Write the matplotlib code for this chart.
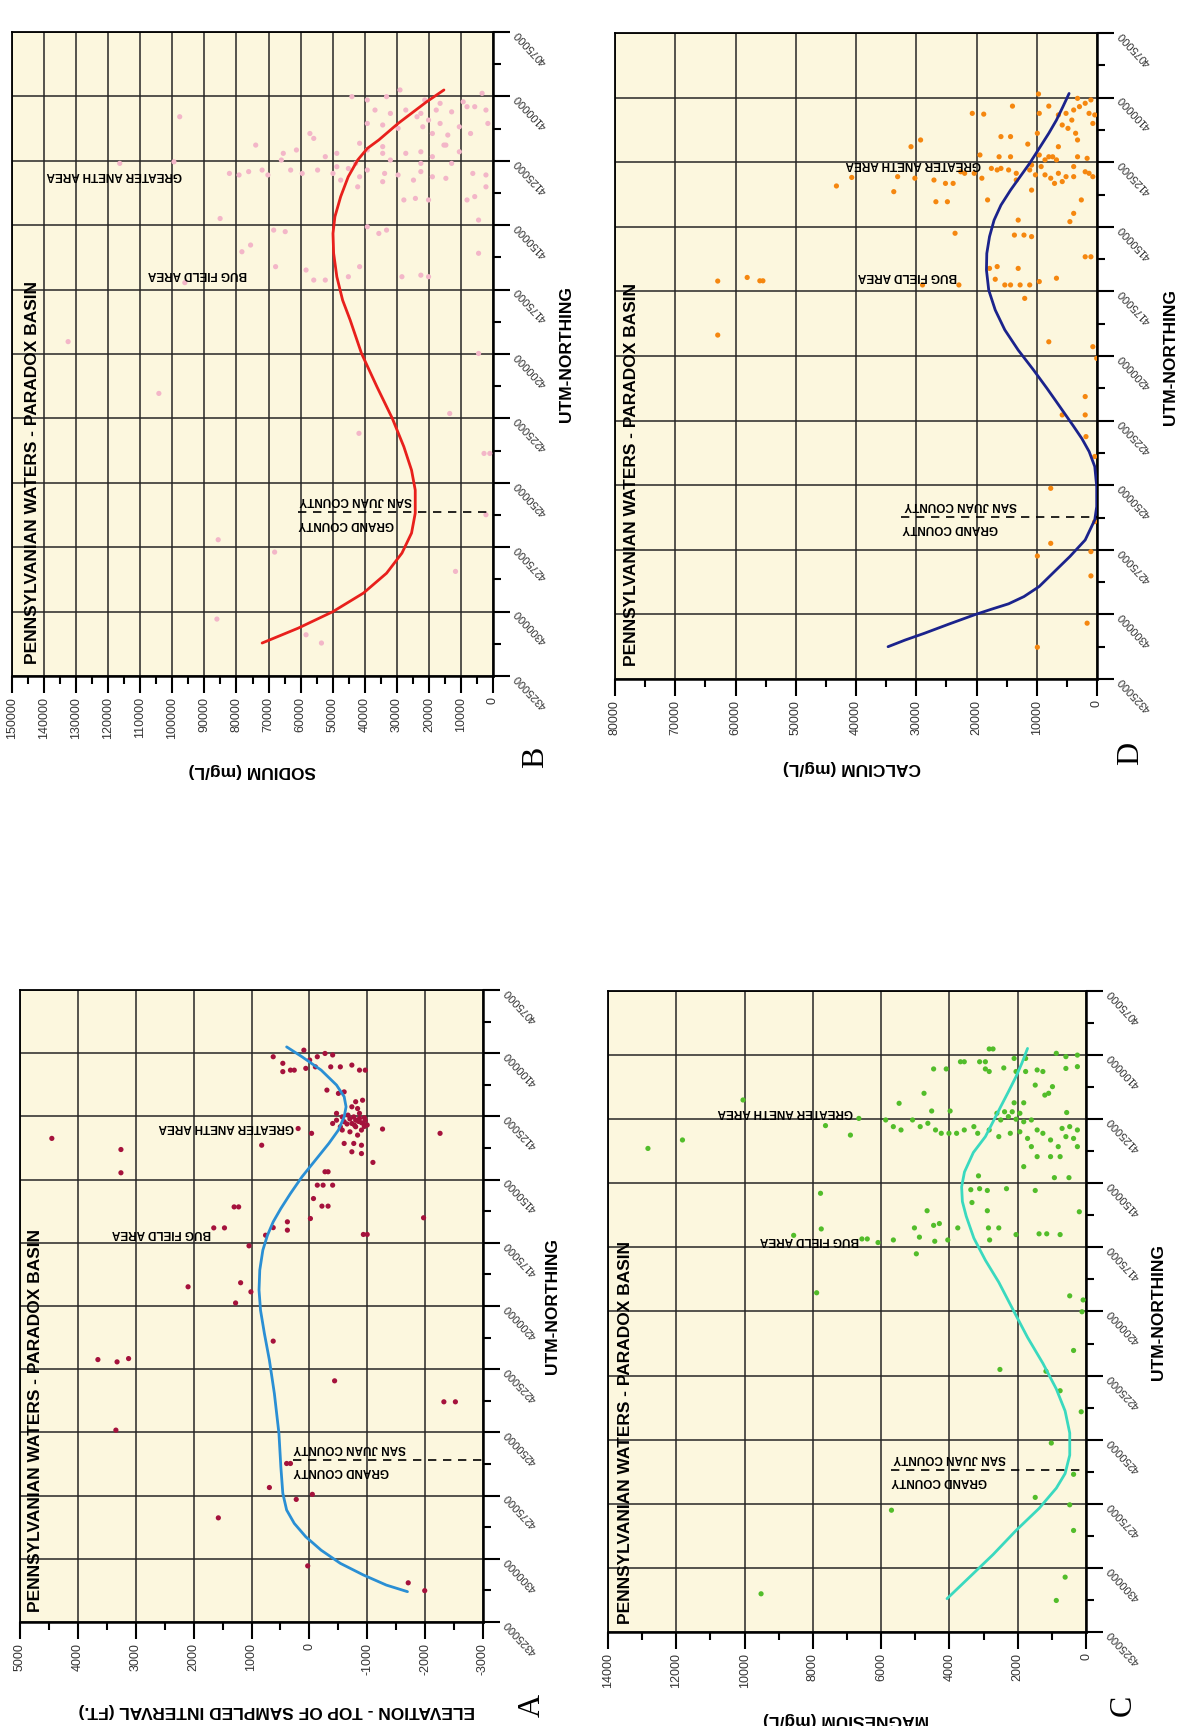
# Pennsylvanian waters - Paradox Basin: 4 panels vs UTM northing (page turned sideways)
import numpy as np
import matplotlib.pyplot as plt
from matplotlib.ticker import MultipleLocator, FuncFormatter

plt.rcParams['font.family'] = ['Liberation Sans', 'DejaVu Sans']
plt.rcParams['axes.unicode_minus'] = False

#---------------- data (utm northing, value) ----------------
# panel B - sodium (mg/L)
sodium_pts = np.array([
    (4097500, 29000), (4100100, 33200), (4101400, 39200), (4100100, 44000), (4101400, 21300),
    (4102700, 16500), (4102100, 9300), (4098800, 3400), (4104000, 5700), (4105300, 2200),
    (4105300, 36800), (4106600, 32000), (4105300, 27200), (4106600, 22500), (4105300, 17700),
    (4106000, 12900), (4104000, 8100), (4107900, 23700), (4109200, 20100), (4110500, 16500),
    (4111800, 10500), (4110500, 1600), (4112400, 29600), (4111100, 34400), (4110500, 39200),
    (4111800, 21900), (4114400, 18900), (4115000, 14100), (4114400, 7000), (4118900, 15300),
    (4121500, 10500), (4121500, 22500), (4119500, 34400), (4120800, 39200), (4122100, 48700),
    (4123400, 52300), (4116300, 55900), (4114400, 57100), (4120800, 61300), (4122100, 65400),
    (4124700, 66000), (4127300, 48700), (4128000, 45100), (4126000, 42800), (4128600, 39200),
    (4129900, 33800), (4130500, 29600), (4132500, 24800), (4129200, 22500), (4131200, 18900),
    (4131800, 14700), (4129900, 6300), (4130500, 2200), (4135100, 2200), (4138900, 5700),
    (4140200, 8100), (4140200, 27800), (4139600, 24200), (4140200, 20100), (4133100, 34400),
    (4131200, 41600), (4129900, 49900), (4128600, 54700), (4129900, 59500), (4128600, 63100),
    (4132500, 47500), (4135100, 42200), (4150600, 39200), (4153200, 35600), (4151900, 33200),
    (4148000, 4500), (4160900, 4500), (4170000, 20100), (4169400, 22500), (4170000, 28400),
    (4166100, 41600), (4170000, 45100), (4171300, 52300), (4167400, 58300), (4166100, 67800),
    (4171300, 55900), (4122100, 34400), (4122100, 27200), (4126000, 22500), (4126000, 12900),
    (4123400, 18900), (4124700, 32000), (4118200, 41600),
    (4195200, 132500), (4215300, 104200), (4107900, 97700), (4126000, 116400), (4125400, 99500),
    (4147400, 85100), (4160300, 78300), (4157700, 75600), (4172300, 96100), (4151900, 68400),
    (4152500, 64800), (4118900, 74000), (4129900, 82200), (4130500, 79200), (4129200, 76200),
    (4128600, 72000), (4130500, 70200), (4230800, 41800), (4238600, 2800), (4238600, 1000),
    (4223100, 13500), (4199800, 4500), (4118900, 14700), (4272100, 85700), (4276900, 68100),
    (4302900, 86100), (4309000, 58300), (4312200, 53500), (4284400, 11700), (4262400, 2200)])
sodium_curve = np.array([
    (4097500, 15300), (4102100, 20700), (4110500, 29600), (4116900, 35600), (4120200, 39200),
    (4124700, 42200), (4131200, 45150), (4138900, 47500), (4146700, 49300), (4153200, 49900),
    (4160900, 49700), (4170000, 48700), (4179100, 46900), (4186800, 44550), (4199800, 41000),
    (4212700, 36200), (4225000, 31400), (4236000, 27800), (4245100, 25400), (4252800, 24250),
    (4261800, 24250), (4269500, 25400), (4277300, 28400), (4285100, 33200), (4292800, 40400),
    (4300000, 49900), (4306400, 60700), (4312200, 72000)])

# panel A - elevation of top of sampled interval (ft)
elev_pts = np.array([
    (4133700, 4450), (4138100, 3256), (4147300, 3256), (4160800, 1300), (4160800, 1222),
    (4169100, 1652), (4169100, 1467), (4136400, 824), (4129800, 194), (4131700, -38),
    (4114600, -303), (4130000, -1264), (4131700, -2258), (4143200, -1098), (4139000, -734),
    (4139700, -900), (4146900, -323), (4146900, -270), (4152200, -137), (4152200, -237),
    (4152200, -402), (4157500, -71), (4160500, -217), (4160500, -323), (4165400, -18),
    (4165100, -1973), (4171700, -933), (4171700, -999), (4166700, 380), (4170000, 380),
    (4169000, 625), (4172000, 757), (4176200, 1043), (4190800, 1188), (4192400, 2096),
    (4194400, 1010), (4198800, 1275), (4213900, 625), (4221200, 3654), (4222100, 3323),
    (4220800, 3124), (4229600, -436), (4237900, -2324), (4237900, -2523), (4249100, 3343),
    (4101400, 625), (4104000, 459), (4106700, 327), (4098800, 95), (4102700, -5),
    (4101400, -137), (4100100, -270), (4100700, -402), (4105400, -535), (4104700, -734),
    (4106700, -866), (4106700, -966), (4107300, 459), (4106700, 261), (4106000, 62),
    (4105400, -104), (4105400, -369), (4119200, -800), (4118600, -919), (4115900, -502),
    (4115300, -601), (4121200, -734), (4121900, -833), (4123800, -469), (4125200, -568),
    (4124500, -667), (4125200, -767), (4125800, -866), (4126500, -966), (4127100, -601),
    (4127800, -734), (4129100, -800), (4130400, -900), (4128400, -999), (4131100, -701),
    (4132400, -833), (4127800, -933), (4127800, -402), (4129100, -535), (4135700, -601),
    (4135700, -767), (4136400, -900), (4130400, -568), (4126500, -469), (4123800, -866),
    (4126000, -700), (4127000, -850), (4128000, -650), (4129000, -950), (4126500, -800),
    (4128500, -780), (4127500, -900), (4125500, -950),
    (4271800, 691), (4262300, 393), (4262300, 327), (4276500, 227), (4274500, -51),
    (4283800, 1573), (4302800, 29), (4309500, -1708), (4312600, -1993)])
elev_curve = np.array([
    (4097500, 393), (4101400, 128), (4106700, -204), (4112600, -469), (4117200, -601),
    (4121200, -634), (4125200, -601), (4130400, -502), (4135700, -336), (4142300, -104),
    (4148900, 128), (4155500, 327), (4161400, 492), (4166700, 625), (4172000, 724),
    (4177900, 804), (4185800, 857), (4193700, 870), (4201700, 844), (4210900, 777),
    (4221400, 691), (4234600, 605), (4250400, 526), (4263600, 493), (4274100, 459),
    (4280700, 393), (4286000, 261), (4291300, 62), (4296600, -204), (4301800, -535),
    (4306400, -933), (4310400, -1330), (4313000, -1695)])

# panel D - calcium (mg/L)
calcium_pts = np.array([
    (4098600, 9710), (4103300, 14030), (4103300, 8000), (4106100, 20700), (4106400, 18800),
    (4100300, 3230), (4102200, 1960), (4100900, 1010), (4103500, 2910), (4106100, 1320),
    (4106700, 370), (4104800, 3870), (4106700, 6410), (4106100, 5140), (4108700, 4180),
    (4110000, 690), (4110600, 5770), (4111900, 4820), (4113800, 3550), (4116400, 3230),
    (4106100, 9580), (4113800, 9900), (4119000, 6410), (4122900, 7360), (4122900, 3230),
    (4123500, 1640), (4122200, 9580), (4124100, 8630), (4122900, 8000), (4124100, 6730),
    (4126700, 9270), (4126100, 10860), (4128000, 11170), (4129900, 10220), (4129900, 8630),
    (4131200, 7680), (4129300, 6410), (4130600, 5140), (4126700, 3870), (4128700, 1960),
    (4129300, 1320), (4130600, 690), (4129300, 13400), (4128000, 14670), (4127400, 15940),
    (4128000, 16570), (4127400, 17530), (4131200, 19110), (4129300, 20380), (4129300, 21970),
    (4128700, 22610), (4133200, 23880), (4133200, 25150), (4131900, 27060), (4131200, 30230),
    (4130600, 33090), (4139600, 18160), (4140300, 24830), (4140300, 26740), (4136400, 33730),
    (4131900, 13400), (4135800, 10860), (4133200, 7050), (4132500, 5770), (4130600, 3870),
    (4139600, 2600), (4144800, 3870), (4148000, 4500), (4147400, 13080), (4153200, 13710),
    (4153200, 12120), (4153800, 10860), (4152500, 23560), (4161600, 1960), (4161600, 1010),
    (4166100, 17840), (4165400, 16570), (4166100, 13080), (4170300, 16890), (4172500, 15300),
    (4172500, 14350), (4172500, 12760), (4172500, 11170), (4171200, 9580), (4169900, 6730),
    (4172500, 22920), (4172500, 28960), (4177700, 12000), (4194500, 8000), (4196400, 690),
    (4200900, 50), (4122900, 16250), (4122900, 14350), (4122200, 19430), (4116400, 29280),
    (4119000, 30870), (4115100, 15940), (4115100, 14350), (4118000, 11490), (4134200, 43250),
    (4130900, 40710), (4171000, 62950), (4169600, 58060), (4170900, 55960), (4170900, 55450),
    (4191900, 62950), (4215700, 1960), (4222800, 5770), (4222800, 1960), (4231200, 1830),
    (4238900, 370), (4251200, 7680), (4272500, 7680), (4277400, 9900), (4275700, 1010),
    (4285100, 1010), (4303400, 1640), (4312700, 9900), (4264100, 370)])
calcium_curve = np.array([
    (4098400, 4630), (4103500, 5650), (4108700, 6730), (4113800, 8000), (4119600, 9580),
    (4125400, 11170), (4130600, 12760), (4135800, 14350), (4141600, 15940), (4147400, 17080),
    (4153800, 17840), (4160300, 18290), (4166700, 18350), (4174500, 17970), (4182200, 16890),
    (4189900, 15300), (4197700, 13080), (4205400, 10540), (4212500, 8310), (4217000, 6950),
    (4222000, 5450), (4227000, 3950), (4232000, 2500), (4237000, 1300), (4242800, 370),
    (4250500, 50), (4258300, 50), (4263400, 370), (4271200, 1960), (4277600, 4500),
    (4283400, 7050), (4289200, 9590), (4293100, 12120), (4295900, 14670), (4298000, 17530),
    (4300200, 20390), (4303700, 24520), (4307300, 28640), (4309900, 31820), (4312500, 34680)])

# panel C - magnesium (mg/L)
magnesium_pts = np.array([
    (4136400, 12830), (4153900, 7776), (4167800, 7754), (4170300, 8562), (4192700, 7889),
    (4171700, 6563), (4171700, 6406), (4173100, 6091), (4172100, 5642), (4167400, 5025),
    (4171000, 4879), (4160700, 4654), (4166400, 4463), (4165700, 4295), (4172600, 4430),
    (4172100, 4048), (4167400, 3756), (4177500, 4969), (4152500, 3374), (4152100, 3116),
    (4152800, 2890), (4147100, 3149), (4157500, 3340), (4160700, 2890), (4167400, 2857),
    (4167400, 2554), (4172100, 2823), (4152100, 2329), (4170000, 2049), (4143500, 1824),
    (4152800, 1487), (4169700, 1375), (4169700, 1150), (4170000, 758), (4147800, 926),
    (4147800, 499), (4139600, 1431), (4139600, 1038), (4139600, 758), (4161100, 196),
    (4193900, 477), (4195500, 84), (4200100, 117), (4215200, 364), (4222600, 2521),
    (4223300, 1173), (4230900, 758), (4239100, 140), (4251300, 1016), (4263500, 364),
    (4272500, 1487), (4277500, 5698), (4275400, 477), (4285400, 364), (4303600, 611),
    (4312700, 870), (4310100, 9517),
    (4097600, 2835), (4097600, 2723), (4102600, 3677), (4102600, 3565), (4102600, 3116),
    (4102600, 2947), (4105400, 4463), (4105400, 4093), (4105400, 2947), (4106400, 2835),
    (4105000, 2408), (4106400, 2049), (4106400, 1768), (4105800, 1431), (4106400, 1263),
    (4099300, 870), (4100600, 589), (4100000, 252), (4104500, 252), (4105200, 589),
    (4101300, 2105), (4101300, 1768), (4111700, 1487), (4114900, 1094), (4112300, 982),
    (4115600, 1206), (4118600, 1824), (4118600, 2105), (4114900, 4744), (4118800, 5474),
    (4121800, 4520), (4121800, 3980), (4122400, 566), (4122700, 2610), (4122100, 2385),
    (4122100, 2161), (4122700, 1936), (4125300, 2498), (4124000, 2273), (4125000, 2049),
    (4126000, 1824), (4125300, 1600), (4125300, 5867), (4127900, 5643), (4129200, 5418),
    (4125300, 5081), (4127900, 4856), (4126600, 4632), (4129200, 4407), (4130500, 4239),
    (4130500, 4014), (4130500, 3790), (4129200, 3565), (4127900, 3284), (4130500, 3172),
    (4129200, 2835), (4131800, 2554), (4130500, 2217), (4129900, 1937), (4132500, 1712),
    (4129200, 1431), (4130500, 1263), (4133100, 1038), (4128600, 701), (4127900, 477),
    (4129200, 252), (4131800, 589), (4132500, 364), (4135700, 252), (4135700, 1600),
    (4135700, 813), (4117500, 10045), (4127500, 7630), (4131200, 6900), (4124700, 6653),
    (4133100, 11819)])
magnesium_curve = np.array([
    (4097400, 1712), (4103200, 1880), (4108400, 2049), (4114300, 2273), (4120100, 2498),
    (4126000, 2723), (4131800, 2947), (4138000, 3300), (4145600, 3560), (4151400, 3643),
    (4157100, 3621), (4162800, 3509), (4171400, 3284), (4180000, 2947), (4188600, 2554),
    (4198700, 2161), (4210100, 1712), (4220200, 1263), (4230200, 870), (4238800, 612),
    (4247400, 476), (4256000, 476), (4263200, 612), (4268900, 870), (4276800, 1375),
    (4285400, 2049), (4294800, 2722), (4303400, 3396), (4312000, 4070)])

title = 'PENNSYLVANIAN WATERS - PARADOX BASIN'

#---------------- figure ----------------
W, H = 1180, 1726
fig = plt.figure(figsize=(W / 100, H / 100), dpi=100)
fig.patch.set_facecolor('white')

def rect(x0, y0, x1, y1):
    #pixel box -> figure fraction
    return [x0 / W, 1 - y1 / H, (x1 - x0) / W, (y1 - y0) / H]

def ftext(x, y, s, **kw):
    fig.text(x / W, 1 - y / H, s, ha='center', va='center', **kw)

def draw_panel(box, vlim, vstep, pts, curve, pcol, ccol, notes, county):
    ax = fig.add_axes(rect(*box))
    ax.set_facecolor('#fcf7de')
    ax.set_xlim(vlim)
    ax.set_ylim(4325000, 4075000)

    #value axis (bottom)
    ax.xaxis.set_major_locator(MultipleLocator(vstep))
    ax.xaxis.set_minor_locator(MultipleLocator(vstep / 2))
    ax.xaxis.set_major_formatter(FuncFormatter(lambda v, p: '%d' % round(v)))
    ax.tick_params(axis='x', which='major', length=12, width=1.5, direction='out',
                   labelrotation=90, labelsize=9, pad=3, labelcolor='#333333')
    ax.tick_params(axis='x', which='minor', length=6, width=1.5, direction='out')

    #utm axis (right)
    ax.yaxis.tick_right()
    ax.yaxis.set_major_locator(MultipleLocator(25000))
    ax.yaxis.set_minor_locator(MultipleLocator(12500))
    ax.yaxis.set_major_formatter(FuncFormatter(lambda v, p: '%d' % round(v)))
    ax.tick_params(axis='y', which='major', length=12, width=1.5, direction='out',
                   labelrotation=133, labelsize=8, pad=2, labelcolor='#333333')
    ax.tick_params(axis='y', which='minor', length=6, width=1.5, direction='out')

    ax.grid(True, which='major', color='#262626', lw=1.1)
    ax.set_axisbelow(True)
    for side in ['bottom', 'right']:
        ax.spines[side].set_linewidth(1.8)
    for side in ['top', 'left']:
        ax.spines[side].set_linewidth(1.3)

    ax.scatter(pts[:, 1], pts[:, 0], s=14, c=pcol, edgecolors='none', zorder=3)
    ax.plot(curve[:, 1], curve[:, 0], color=ccol, lw=2.0, zorder=4,
            solid_capstyle='round', solid_joinstyle='round')

    for (u, v, s) in notes:
        ax.text(v, u, s, rotation=180, fontsize=8.5, fontweight='bold',
                ha='center', va='center', zorder=5)

    #county boundary
    u, v0 = county
    ax.plot([v0, vlim[1]], [u, u], color='black', lw=1.2, ls=(0, (5, 4)), zorder=4)
    return ax

#B - sodium
draw_panel((12, 32, 493, 676), (150000, 0), 10000, sodium_pts, sodium_curve,
           '#f3b6c8', '#e8201c',
           [(4130500, 118000, 'GREATER ANETH AREA'), (4168900, 92300, 'BUG FIELD AREA'),
            (4256600, 42700, 'SAN JUAN COUNTY'), (4265800, 45800, 'GRAND COUNTY')],
           (4261300, 60800))
#D - calcium
draw_panel((615, 33, 1097, 679), (80000, 0), 10000, calcium_pts, calcium_curve,
           '#f5870f', '#1b238c',
           [(4125700, 30500, 'GREATER ANETH AREA'), (4169000, 31400, 'BUG FIELD AREA'),
            (4257800, 22700, 'SAN JUAN COUNTY'), (4266600, 24400, 'GRAND COUNTY')],
           (4262300, 32500))
#A - elevation
draw_panel((20, 990, 483, 1622), (5000, -3000), 1000, elev_pts, elev_curve,
           '#a5123c', '#2a8fd4',
           [(4129200, 1432, 'GREATER ANETH AREA'), (4171100, 2558, 'BUG FIELD AREA'),
            (4256200, -698, 'SAN JUAN COUNTY'), (4265200, -542, 'GRAND COUNTY')],
           (4260900, 290))
#C - magnesium
draw_panel((608, 991, 1086, 1632), (14000, 0), 2000, magnesium_pts, magnesium_curve,
           '#52bd2a', '#3ad9bf',
           [(4122200, 8800, 'GREATER ANETH AREA'), (4172100, 8100, 'BUG FIELD AREA'),
            (4257300, 3990, 'SAN JUAN COUNTY'), (4266300, 4300, 'GRAND COUNTY')],
           (4261800, 5700))

#titles inside panels
for (x, y) in [(33, 473), (632, 474), (36, 1420), (626, 1432)]:
    ftext(x, y, title, rotation=90, fontsize=12.5, fontweight='bold')

#utm axis labels
for (x, y) in [(566, 354), (1171, 357), (553, 1306), (1158, 1312)]:
    ftext(x, y, 'UTM-NORTHING', rotation=90, fontsize=12.5, fontweight='bold')

#value axis labels
ftext(252, 770, 'SODIUM (mg/L)', rotation=180, fontsize=12.5, fontweight='bold')
ftext(852, 767, 'CALCIUM (mg/L)', rotation=180, fontsize=12.5, fontweight='bold')
ftext(277, 1710, 'ELEVATION - TOP OF SAMPLED INTERVAL (FT.)', rotation=180,
      fontsize=12.5, fontweight='bold')
ftext(846, 1719, 'MAGNESIUM (mg/L)', rotation=180, fontsize=12.5, fontweight='bold')

#panel letters
for (x, y, s) in [(536, 757, 'B'), (1131, 753, 'D'), (532, 1705, 'A'), (1123, 1705, 'C')]:
    ftext(x, y, s, rotation=90, fontsize=23, family='Liberation Serif')

fig.savefig('out.png', dpi=100)
